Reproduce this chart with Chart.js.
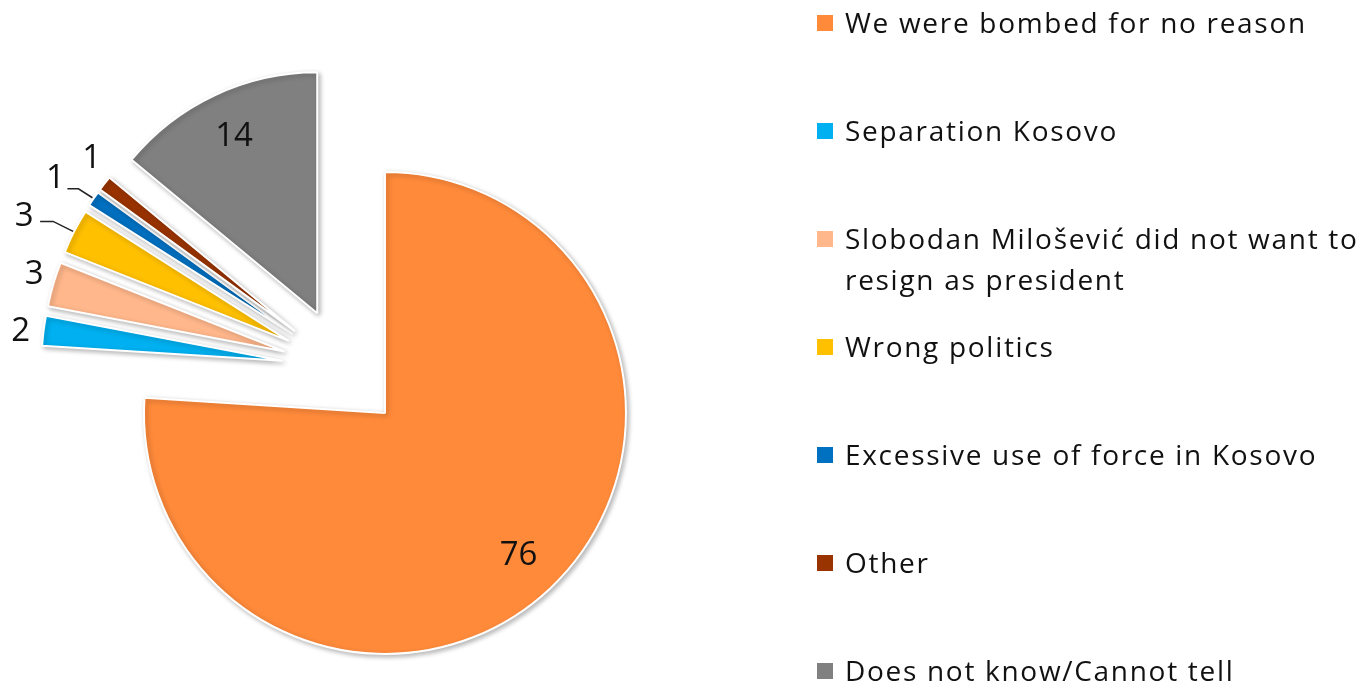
<!DOCTYPE html>
<html>
<head>
<meta charset="utf-8">
<script src="https://cdn.jsdelivr.net/npm/chart.js@4.4.1/dist/chart.umd.min.js"></script>
<style>
  html, body { margin: 0; padding: 0; background: #fff; }
  #wrap { position: relative; width: 1362px; height: 688px; overflow: hidden; }
  #c { position: absolute; left: 0; top: 0; }
  .lg { position: absolute; left: 817px; font-family: "Open Sans", sans-serif; font-size: 28px; letter-spacing: 1.7px; line-height: 41px; color: #111; white-space: nowrap; }
  .lg .sw { position: absolute; left: 0; top: 13px; width: 16px; height: 16px; }
  .lg .tx { position: absolute; left: 28px; top: 0; }
</style>
</head>
<body>
<div id="wrap">
  <canvas id="c" width="1362" height="688"></canvas>
</div>
<script>
// ---- data ----
const categories = [
  "We were bombed for no reason",
  "Separation Kosovo",
  ["Slobodan Milošević did not want to", "resign as president"],
  "Wrong politics",
  "Excessive use of force in Kosovo",
  "Other",
  "Does not know/Cannot tell"
];
const values = [76, 2, 3, 3, 1, 1, 14];
const colors = ["#FF8A3A", "#00B0F0", "#FFB78B", "#FFC000", "#0070C0", "#993300", "#808080"];

// ---- style / layout ----
const RADIUS = 241;
const EXPLODE = 61;
const LEGEND_FIRST = 22, LEGEND_STEP = 108;
// label placement per slice (relative to slice geometry)
const labelPlace = [
  { inside: 0.81 },
  { dx: -23, dy: 1 },
  { dx: -19, dy: -10 },
  { dx: -50, dy: -15, leader: [[-34, -10], [-21, -10], [-1, 0]] },
  { dx: -38, dy: -20, leader: [[-26, -10], [-15, -10], [-1, -1]] },
  { dx: -13, dy: -25 },
  { inside: 0.81 }
];

const explodePlugin = {
  id: 'explode',
  afterUpdate(chart) {
    const meta = chart.getDatasetMeta(0);
    meta.data.forEach(el => {
      const mid = (el.startAngle + el.endAngle) / 2;
      el.x = el.x + Math.cos(mid) * EXPLODE;
      el.y = el.y + Math.sin(mid) * EXPLODE;
    });
  },
  beforeDatasetsDraw(chart) {
    const ctx = chart.ctx;
    ctx.save();
    ctx.shadowColor = 'rgba(0,0,0,0.28)';
    ctx.shadowBlur = 5;
    ctx.shadowOffsetX = 2;
    ctx.shadowOffsetY = 2;
  },
  afterDatasetsDraw(chart) {
    const ctx = chart.ctx;
    ctx.restore();
    const meta = chart.getDatasetMeta(0);
    ctx.save();
    ctx.font = '33px "Open Sans", sans-serif';
    ctx.fillStyle = '#111';
    ctx.textAlign = 'center';
    ctx.textBaseline = 'middle';
    meta.data.forEach((el, i) => {
      const p = labelPlace[i];
      const mid = (el.startAngle + el.endAngle) / 2;
      const cx = Math.cos(mid), sy = Math.sin(mid);
      const r = el.outerRadius;
      let lx, ly;
      if (p.inside !== undefined) {
        lx = el.x + cx * r * p.inside;
        ly = el.y + sy * r * p.inside;
      } else {
        const mx = el.x + cx * r, my = el.y + sy * r;
        lx = mx + p.dx; ly = my + p.dy;
        if (p.leader) {
          ctx.beginPath();
          ctx.strokeStyle = '#222';
          ctx.lineWidth = 1.5;
          p.leader.forEach((pt, k) => {
            if (k === 0) ctx.moveTo(mx + pt[0], my + pt[1]);
            else ctx.lineTo(mx + pt[0], my + pt[1]);
          });
          ctx.stroke();
        }
      }
      ctx.fillText(String(values[i]), lx, ly);
    });
    ctx.restore();
  }
};

new Chart(document.getElementById('c'), {
  type: 'pie',
  data: {
    labels: categories,
    datasets: [{
      data: values,
      backgroundColor: colors,
      borderColor: '#ffffff',
      borderWidth: 2,
      clip: false
    }]
  },
  options: {
    responsive: false,
    animation: false,
    events: [],
    radius: RADIUS,
    layout: { padding: { left: 0, right: 675.6, top: 49, bottom: 0 } },
    plugins: { legend: { display: false }, tooltip: { enabled: false } }
  },
  plugins: [explodePlugin]
});

// HTML legend built from the arrays
const wrap = document.getElementById('wrap');
categories.forEach((lab, i) => {
  const d = document.createElement('div');
  d.className = 'lg';
  d.style.top = (LEGEND_FIRST + i * LEGEND_STEP - 20.5) + 'px';
  const sw = document.createElement('div');
  sw.className = 'sw';
  sw.style.background = colors[i];
  const tx = document.createElement('div');
  tx.className = 'tx';
  tx.innerHTML = (Array.isArray(lab) ? lab : [lab]).join('<br>');
  d.appendChild(sw); d.appendChild(tx);
  wrap.appendChild(d);
});
</script>
</body>
</html>
